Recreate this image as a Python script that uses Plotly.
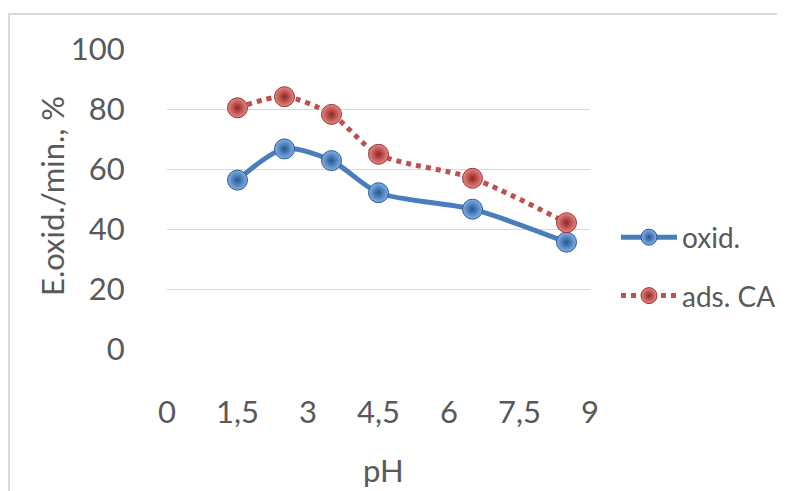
import plotly.graph_objects as go

ph = [1.5, 2.5, 3.5, 4.5, 6.5, 8.5]
oxid = [56.3, 66.7, 62.8, 52.1, 46.6, 35.6]
ads_ca = [80.4, 84.1, 78.2, 64.9, 56.9, 42.1]

x_tickvals = [0, 1.5, 3, 4.5, 6, 7.5, 9]
x_ticktext = ["0", "1,5", "3", "4,5", "6", "7,5", "9"]
y_tickvals = [0, 20, 40, 60, 80, 100]

FONT = "Lato, sans-serif"
GREY = "#595959"

fig = go.Figure()
fig.add_trace(go.Scatter(
    x=ph, y=oxid, name="oxid.", mode="lines+markers",
    line=dict(color="#4A7EBB", width=5, shape="spline", smoothing=0.8),
    marker=dict(size=20, color="#82B1EA", symbol="circle",
                gradient=dict(type="radial", color="#23558F"),
                line=dict(color="#2C5A8E", width=1)),
    legendgroup="a",
))
fig.add_trace(go.Scatter(
    x=ph, y=ads_ca, name="ads. CA", mode="lines+markers",
    line=dict(color="#C0504D", width=5, dash="dot", shape="spline", smoothing=0.8),
    marker=dict(size=20, color="#EC8683", symbol="circle",
                gradient=dict(type="radial", color="#8E2522"),
                line=dict(color="#8C3836", width=1)),
    legendgroup="b",
))

fig.update_layout(
    width=785, height=491,
    margin=dict(l=159, r=203, t=41, b=150),
    paper_bgcolor="white", plot_bgcolor="white",
    font=dict(family=FONT, color=GREY, size=31),
    showlegend=True,
    legend=dict(x=(616 - 167) / 423, y=0.455, xanchor="left", yanchor="top",
                font=dict(size=28, color=GREY), tracegroupgap=19,
                bgcolor="rgba(0,0,0,0)", itemwidth=56, borderwidth=0),
    xaxis=dict(range=[0, 9], tickvals=x_tickvals, ticktext=x_ticktext,
               showgrid=False, zeroline=False, showline=False,
               ticks="outside", ticklen=36, tickcolor="rgba(0,0,0,0)",
               tickfont=dict(size=31, color=GREY)),
    yaxis=dict(range=[0, 100], tickvals=y_tickvals,
               showgrid=True, gridcolor="#D9D9D9", gridwidth=1.3,
               zeroline=False, showline=False,
               ticks="outside", ticklen=35, tickcolor="rgba(0,0,0,0)",
               tickfont=dict(size=31, color=GREY)),
    annotations=[
        dict(text="E.oxid./min., %", xref="paper", yref="paper",
             x=(44 - 159) / 423, y=(341 - 188) / 300, textangle=-90,
             showarrow=False, xanchor="center", yanchor="middle",
             font=dict(size=31, color=GREY)),
        dict(text="pH", xref="paper", yref="paper",
             x=(375 - 159) / 423, y=(341 - 462) / 300,
             showarrow=False, xanchor="center", yanchor="middle",
             font=dict(size=31, color=GREY)),
    ],
    shapes=[dict(type="rect", xref="paper", yref="paper",
                 x0=(1 - 159) / 423, x1=(800 - 159) / 423,
                 y0=(341 - 510) / 300, y1=(341 - 6) / 300,
                 line=dict(color="#D9D9D9", width=2), fillcolor="rgba(0,0,0,0)",
                 layer="below")],
)

fig.write_html("out.html")
